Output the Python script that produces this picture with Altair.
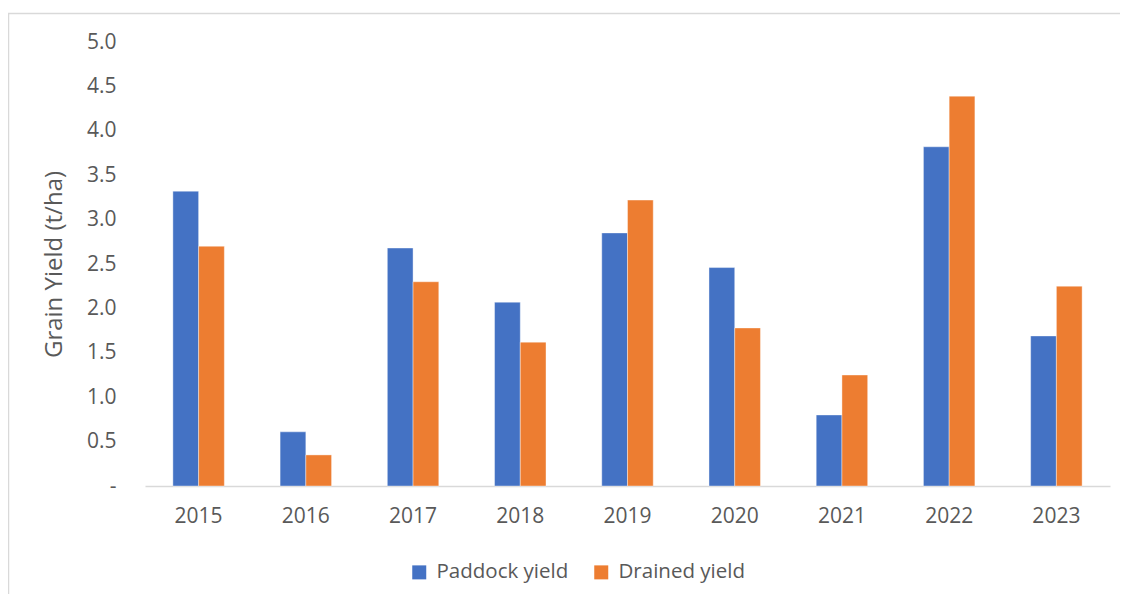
import altair as alt
import pandas as pd

years = ["2015", "2016", "2017", "2018", "2019", "2020", "2021", "2022", "2023"]
paddock = [3.32, 0.61, 2.68, 2.07, 2.85, 2.46, 0.80, 3.82, 1.69]
drained = [2.70, 0.35, 2.30, 1.62, 3.22, 1.78, 1.25, 4.39, 2.25]
series = ["Paddock yield", "Drained yield"]
colors = ["#4472C4", "#ED7D31"]

rows = []
for i, y in enumerate(years):
    rows.append({"year": y, "series": series[0], "value": paddock[i]})
    rows.append({"year": y, "series": series[1], "value": drained[i]})
df = pd.DataFrame(rows)

FONT = "Open Sans"
GRAY = "#595959"
NB = "\u00a0"

bars = alt.Chart(df).mark_bar(stroke="white", strokeWidth=0.4).encode(
    x=alt.X("year:N", sort=years, title=None,
            scale=alt.Scale(paddingInner=0.52, paddingOuter=0.26),
            axis=alt.Axis(labelAngle=0, ticks=False, labelPadding=19,
                          domainColor="#D9D9D9", domainWidth=1.3)),
    xOffset=alt.XOffset("series:N", sort=series),
    y=alt.Y("value:Q", title="Grain Yield (t/ha)",
            scale=alt.Scale(domain=[0, 5], nice=False),
            axis=alt.Axis(values=[0, 0.5, 1, 1.5, 2, 2.5, 3, 3.5, 4, 4.5, 5],
                          labelExpr="datum.value == 0 ? '-" + NB + NB + "' : format(datum.value, '.1f')",
                          ticks=False, domain=False, grid=False, labelPadding=29,
                          titleX=-79, titleY=222, titleBaseline="bottom",
                          titleFontSize=24)),
    color=alt.Color("series:N", sort=series,
                    scale=alt.Scale(domain=series, range=colors),
                    legend=alt.Legend(title=None, orient="none", direction="horizontal",
                                      legendX=264, legendY=520,
                                      symbolType="square", symbolSize=196,
                                      symbolStrokeWidth=0, labelOffset=7,
                                      columnPadding=22, labelFontSize=20.5)),
)

frame = alt.Chart(alt.Data(values=[{"a": 1}])).mark_rect(
    fill=None, stroke="#D9D9D9", strokeWidth=1.5).encode(
    x=alt.value(-136.5), x2=alt.value(1100),
    y=alt.value(-28.5), y2=alt.value(700))

chart = alt.layer(frame, bars).properties(
    width=965, height=444,
    autosize=alt.AutoSizeParams(type="none"),
    padding={"left": 137, "top": 34, "right": 10, "bottom": 108},
).configure_view(stroke=None).configure_axis(
    labelFont=FONT, titleFont=FONT, labelFontSize=21,
    labelColor=GRAY, titleColor=GRAY, titleFontWeight="normal",
).configure_legend(labelFont=FONT, labelColor=GRAY)

chart.save("out.html", embed_options={"renderer": "svg", "actions": False})
